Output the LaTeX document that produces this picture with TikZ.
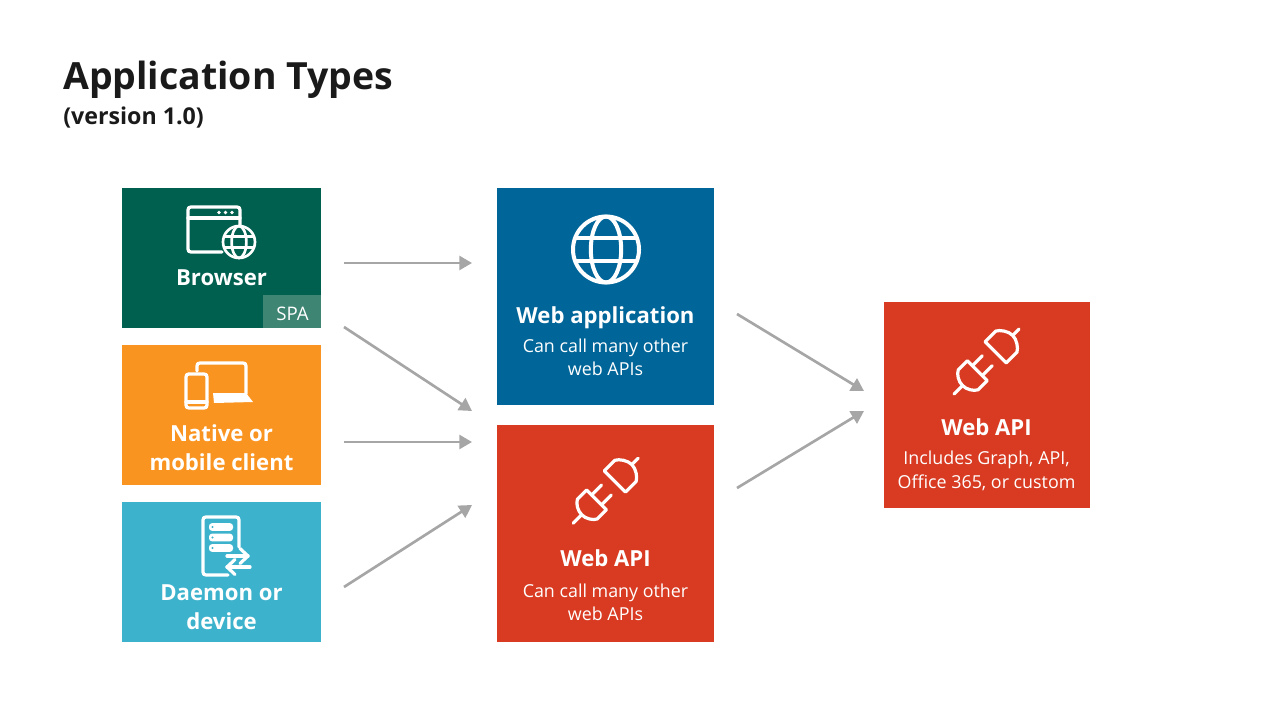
\documentclass[tikz,border=0pt]{standalone}
\usepackage{fontspec}
\setmainfont{Open Sans}
\usetikzlibrary{arrows.meta}
\definecolor{browsergreen}{RGB}{0,96,80}
\definecolor{spagreen}{RGB}{63,133,116}
\definecolor{nativeorange}{RGB}{250,148,32}
\definecolor{daemonteal}{RGB}{60,178,204}
\definecolor{webblue}{RGB}{0,102,153}
\definecolor{apired}{RGB}{216,59,34}
\definecolor{flowgrey}{RGB}{166,166,166}
\definecolor{titleblack}{RGB}{26,26,26}
\tikzset{
  tilebox/.style={anchor=north west,inner sep=0pt,outer sep=0pt},
  iconline/.style={draw=white,line width=2.4pt,line cap=round,line join=round},
  iconfill/.style={fill=white,draw=none},
  flow/.style={draw=flowgrey,line width=2pt,-{Triangle[length=9.5pt,width=10.5pt]}},
  tilehead/.style={anchor=base,inner sep=0pt,text=white,font=\bfseries\fontsize{16.6}{20}\selectfont},
  tilesub/.style={anchor=base,inner sep=0pt,text=white,font=\fontsize{13.4}{16}\selectfont},
  titletext/.style={anchor=base west,inner sep=0pt,text=titleblack},
  pics/plugicon/.style={code={
    \draw[iconline] (-46,0) -- (-34,0);
    \draw[iconline] (-13,-14) -- (-13,14) -- (-26,14) .. controls (-30,12) and (-34,6) .. (-34,0) .. controls (-34,-6) and (-30,-12) .. (-26,-14) -- cycle;
    \draw[iconline] (-13,-7) -- (1,-7);
    \draw[iconline] (-13,7) -- (1,7);
    \draw[iconline] (46,0) -- (37,0);
    \draw[iconline] (13,-15) -- (13,15) -- (28,15) .. controls (32,13) and (37,6) .. (37,0) .. controls (37,-6) and (32,-13) .. (28,-15) -- cycle;
  }},
  pics/globeicon/.style args={#1/#2}{code={
    \draw[iconline,line width=#2] (0,0) circle (#1);
    \draw[iconline,line width=#2] (0,0) ellipse ({0.46*#1} and #1);
    \draw[iconline,line width=#2] (-0.93*#1,-0.34*#1) -- (0.93*#1,-0.34*#1);
    \draw[iconline,line width=#2] (-0.93*#1,0.34*#1) -- (0.93*#1,0.34*#1);
  }},
}
\begin{document}
\begin{tikzpicture}[x=0.75pt,y=0.75pt,yscale=-1,xscale=1]
\useasboundingbox (0,0) rectangle (1280,720);

%Tiles
\node[tilebox,fill=browsergreen,minimum width=149.25pt,minimum height=105pt] (browser) at (122,188) {};
\node[tilebox,fill=spagreen,minimum width=43.5pt,minimum height=24.75pt,anchor=south east] (spa) at (321,328) {};
\node[tilebox,fill=nativeorange,minimum width=149.25pt,minimum height=105pt] (native) at (122,345) {};
\node[tilebox,fill=daemonteal,minimum width=149.25pt,minimum height=105pt] (daemon) at (122,502) {};
\node[tilebox,fill=webblue,minimum width=162.75pt,minimum height=162.75pt] (webapp) at (497,188) {};
\node[tilebox,fill=apired,minimum width=162.75pt,minimum height=162.75pt] (webapi) at (497,425) {};
\node[tilebox,fill=apired,minimum width=154.5pt,minimum height=154.5pt] (backend) at (884,302) {};

%Browser icon
\draw[iconline] (240,226) -- (240,210) .. controls (240,208) and (239,207) .. (237,207) -- (191,207) .. controls (189,207) and (188,208) .. (188,210) -- (188,249) .. controls (188,251) and (189,252) .. (191,252) -- (222,252);
\draw[iconline] (188,218) -- (240,218);
\foreach \dotx in {219,225.5,232} \fill[white] (\dotx,212.5) circle (1.8);
\pic at (239,242) {globeicon={16/2pt}};

%Native icon
\draw[iconline] (197,371) -- (197,366) .. controls (197,364) and (198,363) .. (200,363) -- (243,363) .. controls (245,363) and (246,364) .. (246,366) -- (246,394);
\path[iconfill] (213,393) -- (246,393) -- (253,402) -- (214,403) -- cycle;
\draw[iconline] (188,374) -- (204,374) .. controls (206,374) and (207,375) .. (207,377) -- (207,405) .. controls (207,407) and (206,408) .. (204,408) -- (189,408) .. controls (187,408) and (186,407) .. (186,405) -- (186,377) .. controls (186,375) and (187,374) .. (189,374);
\draw[iconline] (186,402) -- (207,402);

%Daemon icon
\draw[iconline] (239,547) -- (239,520) .. controls (239,518) and (238,517) .. (236,517) -- (206,517) .. controls (204,517) and (203,518) .. (203,520) -- (203,572) .. controls (203,574) and (204,575) .. (206,575) -- (228,575);
\foreach \bary in {527,537.5,548} {
  \fill[white,rounded corners=2.2pt] (209,\bary-3.8) rectangle (233,\bary+3.8);
  \fill[daemonteal] (212.5,\bary) circle (1.2);
}
\draw[iconline] (227,556) -- (248,556);
\draw[iconline] (240,548.5) -- (248,556) -- (240,563.5);
\draw[iconline] (250,567) -- (227,567);
\draw[iconline] (235,559.5) -- (227,567) -- (235,574.5);

%Web application icon
\pic at (606,249.5) {globeicon={33/3pt}};

%Web API icons
\pic[rotate=45] at (605.7,490.7) {plugicon};
\pic[rotate=45] at (986.5,361.5) {plugicon};

% Text Node
\node[titletext,font=\bfseries\fontsize{28.1}{34}\selectfont] (title) at (63,90) {Application Types};
% Text Node
\node[titletext,font=\bfseries\fontsize{17.4}{22}\selectfont] (version) at (63,125) {(version 1.0)};
% Text Node
\node[tilehead] (browserlabel) at (221.5,285) {Browser};
% Text Node
\node[tilesub,font=\fontsize{14}{16}\selectfont] (spalabel) at (292.5,320) {SPA};
% Text Node
\node[tilehead] (nativelabel) at (221.5,441) {Native or};
% Text Node
\node[tilehead] (mobilelabel) at (221.5,470) {mobile client};
% Text Node
\node[tilehead] (daemonlabel) at (221.5,600) {Daemon or};
% Text Node
\node[tilehead] (devicelabel) at (221.5,629) {device};
% Text Node
\node[tilehead] (webapplabel) at (605.5,323) {Web application};
% Text Node
\node[tilesub] (webappsub) at (605.5,352) {Can call many other};
% Text Node
\node[tilesub] (webappsubb) at (605.5,375) {web APIs};
% Text Node
\node[tilehead] (webapilabel) at (605.5,566) {Web API};
% Text Node
\node[tilesub] (webapisub) at (605.5,597) {Can call many other};
% Text Node
\node[tilesub] (webapisubb) at (605.5,620) {web APIs};
% Text Node
\node[tilehead] (backendlabel) at (986.5,435) {Web API};
% Text Node
\node[tilesub] (backendsub) at (986.5,464) {Includes Graph, API,};
% Text Node
\node[tilesub] (backendsubb) at (986.5,488) {Office 365, or custom};

%Free ends of the arrows
\coordinate (browserout) at (344,263);
\coordinate (browsercross) at (344,327);
\coordinate (nativeout) at (344,442);
\coordinate (daemonout) at (344,587);
\coordinate (webappin) at (472,263);
\coordinate (webapiina) at (472,411);
\coordinate (webapiinb) at (472,442);
\coordinate (webapiinc) at (472,505);
\coordinate (webappout) at (737,314);
\coordinate (webapiout) at (737,488);
\coordinate (backendina) at (864,391);
\coordinate (backendinb) at (864,411);

%Arrows
\draw[flow] (browserout) -- (webappin);
\draw[flow] (browsercross) -- (webapiina);
\draw[flow] (nativeout) -- (webapiinb);
\draw[flow] (daemonout) -- (webapiinc);
\draw[flow] (webappout) -- (backendina);
\draw[flow] (webapiout) -- (backendinb);

\end{tikzpicture}
\end{document}
